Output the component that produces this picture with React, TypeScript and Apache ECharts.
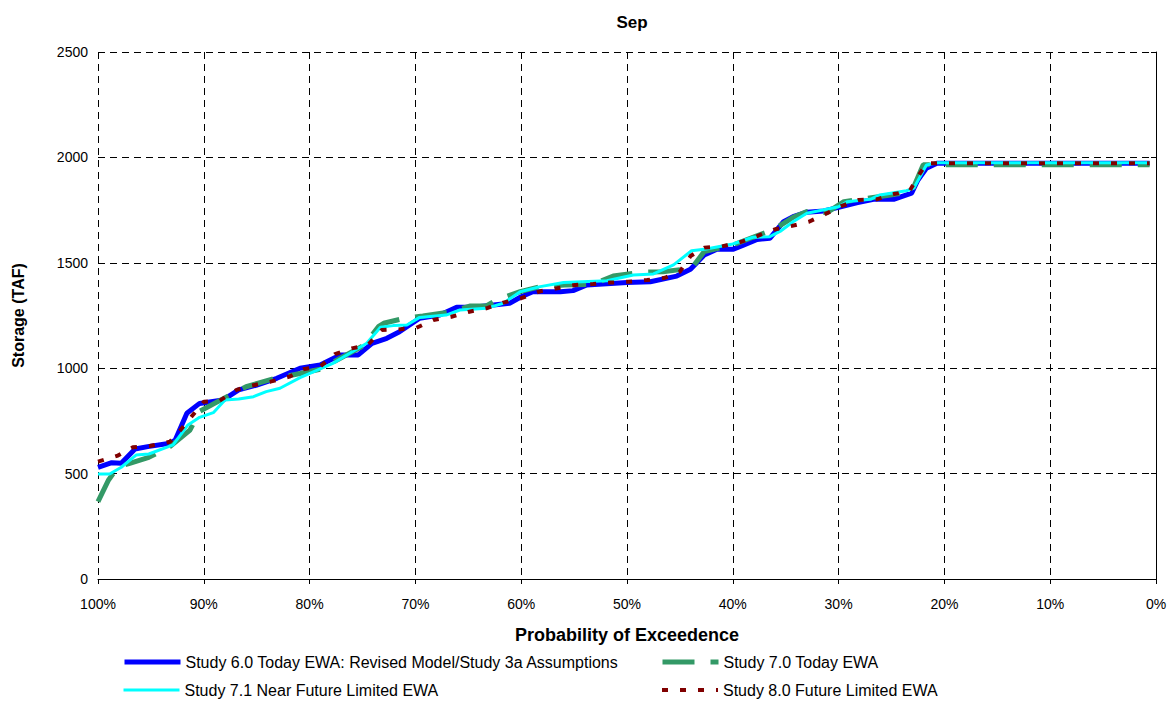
import React, { useEffect, useRef } from "react";
import * as echarts from "echarts";

const FONT = "Liberation Sans, Arial, sans-serif";

const TITLE = "Sep";
const X_NAME = "Probability of Exceedence";
const Y_NAME = "Storage (TAF)";

const SERIES_NAMES = [
  "Study 6.0 Today EWA: Revised Model/Study 3a Assumptions",
  "Study 7.0 Today EWA",
  "Study 7.1 Near Future Limited EWA",
  "Study 8.0 Future Limited EWA",
];

// Study 6.0 (blue)
const study60Prob = [100, 98.7, 97.8, 96.5, 95.3, 93.2, 92.7, 91.6, 90.4, 88.2, 86.7, 85, 83.1, 80.9, 79, 77.1, 75.4, 74.1, 72.7, 71.5, 69.6, 67.7, 66.1, 64.5, 62.6, 61.1, 60, 58.9, 56.3, 55.1, 53.8, 50, 47.8, 45.3, 44, 42.7, 41.5, 40, 39, 37.7, 36.5, 35.2, 34.3, 33, 31.4, 30, 28.3, 26.7, 24.8, 23.1, 22.5, 21.7, 20.7, 0.6];
const study60Storage = [530, 552, 549, 617, 628, 644, 659, 786, 833, 849, 897, 920, 952, 1000, 1015, 1063, 1063, 1118, 1142, 1173, 1237, 1252, 1289, 1289, 1300, 1308, 1339, 1363, 1363, 1368, 1395, 1406, 1410, 1437, 1469, 1537, 1564, 1564, 1584, 1611, 1616, 1695, 1719, 1740, 1746, 1763, 1785, 1801, 1801, 1830, 1893, 1948, 1972, 1972];

// Study 7.0 (green dashed)
const study70Prob = [100, 99, 98.1, 97, 95.2, 93.2, 91.3, 90.4, 87.8, 86, 83.4, 80.9, 79, 77.1, 74.8, 73.5, 73, 71, 69.3, 66.6, 64.8, 63.3, 62.2, 60.1, 58.2, 55.9, 53.2, 51.3, 48.5, 46.6, 43.9, 42.7, 40, 38.1, 36.2, 34.3, 33, 31.1, 29.5, 27.3, 25.1, 23.1, 22, 0.6];
const study70Storage = [367, 470, 533, 549, 577, 628, 707, 795, 865, 912, 950, 975, 995, 1047, 1110, 1197, 1213, 1237, 1248, 1268, 1295, 1295, 1327, 1363, 1387, 1395, 1398, 1437, 1456, 1458, 1474, 1553, 1584, 1621, 1656, 1716, 1743, 1738, 1790, 1806, 1822, 1837, 1965, 1965];

// Study 7.1 (cyan)
const study71Prob = [100, 98.9, 97.8, 96.4, 95.2, 92.9, 91.5, 90.4, 89.1, 88, 86.7, 85.3, 84.1, 82.8, 80.9, 77.8, 76.2, 74.6, 73.3, 72.1, 70.8, 69.6, 67.1, 65.8, 63.3, 61.7, 60.1, 58.2, 56, 51.9, 49.4, 47.5, 45.6, 43.9, 42.5, 40, 38.1, 36.5, 35.5, 34.3, 33, 30, 29.2, 27, 26.1, 23.6, 22.9, 21.7, 20.7, 0.6];
const study71Storage = [498, 498, 530, 588, 593, 636, 731, 767, 789, 849, 854, 865, 889, 905, 955, 1023, 1071, 1118, 1194, 1202, 1205, 1241, 1252, 1276, 1284, 1308, 1363, 1387, 1407, 1415, 1442, 1447, 1490, 1557, 1565, 1589, 1621, 1624, 1650, 1695, 1735, 1766, 1790, 1801, 1822, 1842, 1853, 1964, 1975, 1975];

// Study 8.0 (dark red dotted)
const study80Prob = [100, 98.2, 96.7, 95.1, 93.2, 92.2, 90, 88.5, 86.9, 85.6, 83.7, 81.9, 80.6, 79, 77.6, 76, 74.5, 73.2, 71.6, 69.9, 68.3, 66.6, 65, 63.3, 61.7, 60, 58.2, 56.6, 54.9, 53.2, 51.6, 49.9, 48.1, 46.4, 45, 44, 42.7, 41.1, 39.5, 37.7, 36, 34.4, 32.8, 31.3, 29.7, 28.1, 26.4, 24.8, 23.3, 22.6, 21.7, 0.6];
const study80Storage = [557, 584, 625, 631, 651, 707, 841, 846, 897, 916, 936, 960, 995, 1008, 1067, 1094, 1110, 1181, 1184, 1192, 1229, 1244, 1267, 1284, 1311, 1332, 1365, 1379, 1395, 1399, 1406, 1410, 1418, 1429, 1458, 1532, 1572, 1577, 1595, 1627, 1659, 1675, 1695, 1730, 1770, 1798, 1801, 1826, 1840, 1901, 1972, 1972];

const zip = (xs: number[], ys: number[]) => xs.map((x, i) => [x, ys[i]]);

const COLORS = ["#0000FF", "#339966", "#00FFFF", "#800000"];
const WIDTHS = [5, 5, 3, 4];
const DASHES: (number[] | "solid")[] = ["solid", [32, 16], "solid", [6, 12]];

export default function App() {
  const ref = useRef<HTMLDivElement>(null);
  useEffect(() => {
    document.body.style.margin = "0";
    const chart = echarts.init(ref.current!, null, { renderer: "svg" });
    const legendText = { fontSize: 16, fontFamily: FONT, color: "#000" };
    const mkLegend = (i: number, left: number, top: number) => ({
      data: [SERIES_NAMES[i]],
      left,
      top,
      itemWidth: 56,
      itemHeight: 14,
      itemGap: 0,
      itemTextGap: 5,
      selectedMode: false,
      itemStyle: { opacity: 0 },
      lineStyle: { width: WIDTHS[i], color: COLORS[i], type: DASHES[i] },
      textStyle: legendText,
    });
    chart.setOption({
      animation: false,
      backgroundColor: "#fff",
      title: {
        text: TITLE,
        left: 627,
        top: 9,
        textAlign: "center",
        textStyle: { fontSize: 17, fontWeight: "bold", fontFamily: FONT, color: "#000" },
      },
      legend: [
        mkLegend(0, 117, 649),
        mkLegend(1, 655, 649),
        mkLegend(2, 117, 677),
        mkLegend(3, 655, 677),
      ],
      grid: { left: 98, right: 18, top: 52, bottom: 123, containLabel: false },
      xAxis: {
        type: "value",
        min: 0,
        max: 100,
        interval: 10,
        inverse: true,
        name: X_NAME,
        nameLocation: "middle",
        nameGap: 47,
        nameTextStyle: { fontSize: 18, fontWeight: "bold", fontFamily: FONT, color: "#000" },
        axisLine: { lineStyle: { color: "#000", width: 1 } },
        axisTick: { show: true, inside: false, length: 5, lineStyle: { color: "#000" } },
        axisLabel: { formatter: (v: number) => v + "%", fontSize: 14, fontFamily: FONT, color: "#000", margin: 18 },
        splitLine: { show: true, lineStyle: { color: "#000", type: [7, 5], width: 1 } },
      },
      yAxis: {
        type: "value",
        min: 0,
        max: 2500,
        interval: 500,
        name: Y_NAME,
        nameLocation: "middle",
        nameGap: 72,
        nameRotate: 90,
        nameTextStyle: { fontSize: 16, fontWeight: "bold", fontFamily: FONT, color: "#000" },
        axisLine: { show: true, lineStyle: { color: "#000", width: 1 } },
        axisTick: { show: true, inside: false, length: 5, lineStyle: { color: "#000" } },
        axisLabel: { formatter: (v: number) => String(v), fontSize: 14, fontFamily: FONT, color: "#000", margin: 10 },
        splitLine: { show: true, lineStyle: { color: "#000", type: [7, 5], width: 1 } },
      },
      series: [
        { name: SERIES_NAMES[0], data: zip(study60Prob, study60Storage) },
        { name: SERIES_NAMES[1], data: zip(study70Prob, study70Storage) },
        { name: SERIES_NAMES[2], data: zip(study71Prob, study71Storage) },
        { name: SERIES_NAMES[3], data: zip(study80Prob, study80Storage) },
      ].map((s, i) => ({
        ...s,
        type: "line",
        symbol: "none",
        color: COLORS[i],
        lineStyle: { color: COLORS[i], width: WIDTHS[i], type: DASHES[i] },
      })),
    });
    return () => chart.dispose();
  }, []);
  return <div ref={ref} style={{ position: "absolute", left: 0, top: 0, width: 1174, height: 702 }} />;
}
